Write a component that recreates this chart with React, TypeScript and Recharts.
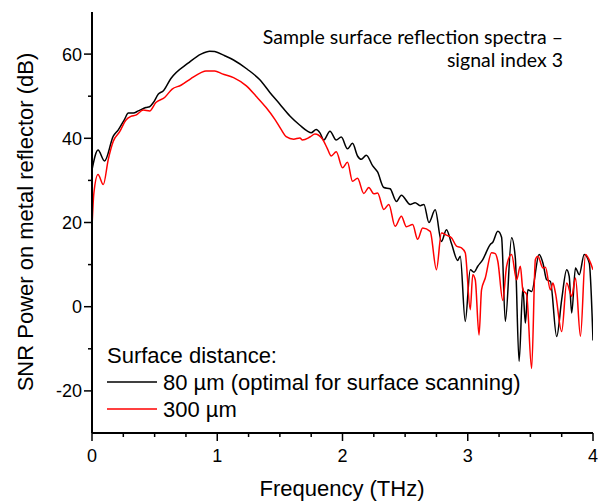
import { LineChart, Line, XAxis, YAxis, Legend } from 'recharts';

// frequency (THz) / SNR (dB) for the two surface distances
const FREQ_80 = [
  0.0, 0.048, 0.1, 0.17, 0.21, 0.26, 0.29, 0.33, 0.37, 0.43, 0.46, 0.49, 0.53, 0.57, 0.63, 0.77, 0.87, 0.94, 0.98,
  1.06, 1.13, 1.24, 1.34, 1.42, 1.5, 1.58, 1.66, 1.72, 1.75, 1.79, 1.82, 1.85, 1.9, 1.95, 1.99, 2.04, 2.08, 2.12,
  2.15, 2.19, 2.24, 2.28, 2.33, 2.38, 2.43, 2.47, 2.54, 2.58, 2.62, 2.65, 2.69, 2.74, 2.79, 2.83, 2.87, 2.92, 2.94,
  2.98, 3.02, 3.05, 3.08, 3.12, 3.18, 3.2, 3.24, 3.27, 3.3, 3.35, 3.38, 3.41, 3.44, 3.46, 3.48, 3.51, 3.57, 3.6,
  3.63, 3.66, 3.71, 3.75, 3.79, 3.81, 3.83, 3.86, 3.89, 3.93, 3.97, 4.0,
];
const SNR_80 = [
  32.5, 37.2, 34.6, 40.5, 42, 44.5, 46, 46, 46.5, 47.3, 47.5, 48.5, 50.5, 51.3, 54.2, 57.9, 60, 60.7, 60.6,
  59.6, 58.6, 56.4, 53.9, 50.9, 48.1, 45.3, 43.1, 41.7, 41.3, 42.1, 41.3, 39.6, 41.7, 39.6, 40.3, 37.5, 38.8, 35.8,
  35, 36, 33.5, 32, 28.3, 28, 25, 26.5, 24.3, 24.7, 24, 24.3, 20, 23, 15.5, 18.3, 15, 11, 12,
  -3.5, 8.8, 8.2, 9.6, 11.2, 14.8, 15.3, 17.9, 16.5, -3.5, 16.4, 11.5, -13, 4.5, -3.9, 4, 3.6, 12.4, 10.4,
  6.4, 6, -7.1, 1.7, 8.8, 7.2, -1.5, 9.2, 7.6, 12.4, 10.4, -8,
];

const FREQ_300 = [
  0.0, 0.015, 0.048, 0.09, 0.13, 0.17, 0.22, 0.27, 0.31, 0.35, 0.41, 0.46, 0.51, 0.58, 0.64, 0.71, 0.79, 0.87, 0.91,
  0.98, 1.04, 1.13, 1.23, 1.31, 1.39, 1.46, 1.51, 1.55, 1.61, 1.66, 1.68, 1.74, 1.78, 1.84, 1.88, 1.91, 1.95, 2.0,
  2.04, 2.08, 2.12, 2.17, 2.21, 2.25, 2.28, 2.33, 2.37, 2.42, 2.47, 2.51, 2.56, 2.6, 2.64, 2.7, 2.75, 2.79, 2.83,
  2.87, 2.91, 2.95, 2.98, 3.02, 3.04, 3.06, 3.09, 3.11, 3.14, 3.19, 3.22, 3.24, 3.28, 3.31, 3.35, 3.39, 3.42, 3.44,
  3.47, 3.51, 3.54, 3.56, 3.6, 3.62, 3.66, 3.68, 3.7, 3.75, 3.79, 3.83, 3.86, 3.9, 3.94, 3.98, 4.0,
];
const SNR_300 = [
  18.8, 27, 31.4, 29, 35, 39.3, 41.5, 44.3, 45.2, 45.5, 46.7, 46.5, 48.5, 49.7, 51.7, 52.6, 54.2, 55.6, 56,
  56, 55.3, 54.4, 52.5, 50, 47.3, 44.5, 42.1, 40.4, 39.8, 40.1, 39.6, 40.3, 41, 39.8, 37.5, 35.8, 36.8, 33,
  34.3, 29.8, 30.5, 26.9, 28.3, 26.8, 27, 23.1, 24.3, 19.1, 21.5, 19, 19.5, 16, 18.7, 17.9, 8.8, 17.5, 17,
  16.4, 14.4, 14, 12.8, -0.7, 7.6, 6.4, -6.7, 4, 6.8, 12.8, 12.6, 10.8, 1.5, 9.6, 12.4, 6.4, 9.6, 4,
  2.9, -14.7, 11.2, 12, 9.2, 9.4, 4, 5.6, 3.3, -5.9, 5.6, 2.5, 6.8, -7, 12.4, 10.4, 8.8,
];

const X_TICKS = [0, 0.25, 0.5, 0.75, 1, 1.25, 1.5, 1.75, 2, 2.25, 2.5, 2.75, 3, 3.25, 3.5, 3.75, 4];
const Y_TICKS = [-20, -10, 0, 10, 20, 30, 40, 50, 60];
const SERIES_NAMES = ['80 µm (optimal for surface scanning)', '300 µm'];

const data80 = FREQ_80.map((f, i) => ({ f, v: SNR_80[i] }));
const data300 = FREQ_300.map((f, i) => ({ f, v: SNR_300[i] }));

const AXIS_FONT = '"Liberation Sans", Arial, sans-serif';
const NOTE_FONT = "Lato, 'Open Sans', sans-serif";

const BottomTick = ({ x, y, payload }: any) => {
  const major = Number.isInteger(payload.value);
  return (
    <g>
      <line x1={x} x2={x} y1={y} y2={y + (major ? 8 : 4)} stroke="#000" strokeWidth={1.5} />
      {major && (
        <text x={x} y={y + 29} textAnchor="middle" fontSize={18} fontFamily={AXIS_FONT} fill="#000">
          {payload.value}
        </text>
      )}
    </g>
  );
};

const TopTick = ({ x, y, payload }: any) => {
  const major = Number.isInteger(payload.value);
  return <line x1={x} x2={x} y1={y} y2={y + (major ? 8 : 4)} stroke="#000" strokeWidth={1.5} />;
};

const LeftTick = ({ x, y, payload }: any) => {
  const major = payload.value % 20 === 0;
  return (
    <g>
      <line x1={x - (major ? 8 : 4)} x2={x} y1={y} y2={y} stroke="#000" strokeWidth={1.5} />
      {major && (
        <text x={x - 10} y={y + 6.5} textAnchor="end" fontSize={18} fontFamily={AXIS_FONT} fill="#000">
          {payload.value}
        </text>
      )}
    </g>
  );
};

const RightTick = ({ x, y }: any) => (
  <line x1={x - 8} x2={x} y1={y} y2={y} stroke="#000" strokeWidth={1.5} />
);

const LegendBox = ({ payload }: any) => {
  const items = [...(payload || [])].sort(
    (a: any, b: any) => SERIES_NAMES.indexOf(a.value) - SERIES_NAMES.indexOf(b.value)
  );
  return (
    <svg width={460} height={90} style={{ overflow: 'visible', display: 'block' }}>
      <text x={0} y={25} fontSize={22} fontFamily={AXIS_FONT} fill="#000">Surface distance:</text>
      {items.map((p: any, i: number) => (
        <g key={i}>
          <line x1={0} x2={50} y1={44 + i * 27} y2={44 + i * 27} stroke={p.color} strokeWidth={1.5} />
          <text x={56} y={52 + i * 27} fontSize={22} fontFamily={AXIS_FONT} fill="#000">{p.value}</text>
        </g>
      ))}
    </svg>
  );
};

export default function App() {
  return (
    <div style={{ position: 'fixed', left: 0, top: 0, width: 601, height: 502, background: '#fff' }}>
      <LineChart width={601} height={502} margin={{ top: 12, right: 8, bottom: 0, left: 0 }}>
        <XAxis
          xAxisId="b" type="number" dataKey="f" domain={[0, 4]} ticks={X_TICKS} interval={0}
          allowDataOverflow height={69} tickLine={false} tickSize={0} tickMargin={0}
          axisLine={{ stroke: '#000', strokeWidth: 2 }} tick={<BottomTick />}
        />
        <XAxis
          xAxisId="t" orientation="top" type="number" dataKey="f" domain={[0, 4]} ticks={X_TICKS} interval={0}
          allowDataOverflow height={0} tickLine={false} tickSize={0} tickMargin={0}
          axisLine={{ stroke: '#000', strokeWidth: 2 }} tick={<TopTick />}
        />
        <YAxis
          yAxisId="l" type="number" domain={[-30, 70]} ticks={Y_TICKS} interval={0} allowDataOverflow
          width={92} tickLine={false} tickSize={0} tickMargin={0}
          axisLine={{ stroke: '#000', strokeWidth: 2 }} tick={<LeftTick />}
        />
        <YAxis
          yAxisId="r" orientation="right" type="number" domain={[-30, 70]} ticks={Y_TICKS} interval={0}
          allowDataOverflow width={0} tickLine={false} tickSize={0} tickMargin={0}
          axisLine={{ stroke: '#000', strokeWidth: 2 }} tick={<RightTick />}
        />
        <Line
          xAxisId="b" yAxisId="l" data={data80} dataKey="v" name={SERIES_NAMES[0]}
          type="monotone" stroke="#000000" strokeWidth={1.5} dot={false} isAnimationActive={false}
        />
        <Line
          xAxisId="b" yAxisId="l" data={data300} dataKey="v" name={SERIES_NAMES[1]}
          type="monotone" stroke="#ff0000" strokeWidth={1.5} dot={false} isAnimationActive={false}
        />
        <Legend
          layout="horizontal" align="center" verticalAlign="middle" content={<LegendBox />}
          wrapperStyle={{ position: 'absolute', left: 107, top: 338, width: 460, height: 90 }}
        />
      </LineChart>
      <svg width={601} height={502} style={{ position: 'absolute', left: 0, top: 0, pointerEvents: 'none' }}>
        <text x={563} y={44} textAnchor="end" fontSize={19.5} fontFamily={NOTE_FONT} fill="#000">
          Sample surface reflection spectra –
        </text>
        <text x={563} y={67} textAnchor="end" fontSize={19.5} fontFamily={NOTE_FONT} fill="#000">
          signal index 3
        </text>
        <text x={342} y={496} textAnchor="middle" fontSize={22} fontFamily={AXIS_FONT} fill="#000">
          Frequency (THz)
        </text>
        <text
          x={33} y={222} textAnchor="middle" fontSize={22} fontFamily={AXIS_FONT} fill="#000"
          transform="rotate(-90 33 222)"
        >
          SNR Power on metal reflector (dB)
        </text>
      </svg>
    </div>
  );
}
